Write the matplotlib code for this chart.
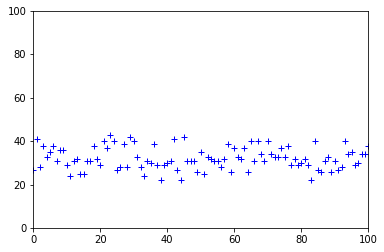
import numpy as np
import matplotlib
matplotlib.use('Agg')
import matplotlib.pyplot as plt

# x positions 0..100, one value each
x_vals = list(range(101))
y_vals = [27, 41, 28, 38, 33, 35, 38, 31, 36, 36,
          29, 24, 31, 32, 25, 25, 31, 31, 38, 32,
          29, 40, 37, 43, 40, 27, 28, 39, 28, 42,
          40, 33, 28, 24, 31, 30, 39, 29, 22, 29,
          30, 31, 41, 27, 22, 42, 31, 31, 31, 26,
          35, 25, 33, 32, 31, 31, 28, 32, 39, 26,
          37, 33, 32, 37, 26, 40, 31, 40, 34, 31,
          40, 34, 33, 33, 37, 33, 38, 29, 32, 29,
          30, 32, 29, 22, 40, 27, 26, 31, 33, 26,
          31, 27, 28, 40, 34, 35, 29, 30, 34, 34,
          38]

fig = plt.figure(figsize=(384 / 72, 252 / 72), dpi=72)
ax = fig.add_axes([33.3 / 384, (252 - 228.3) / 252, 335 / 384, 217.3 / 252])
ax.plot(x_vals, y_vals, 'b+', markersize=6)
ax.set_xlim(0, 100)
ax.set_ylim(0, 100)
ax.tick_params(labelsize=10)

fig.savefig('out.png', dpi=72)
